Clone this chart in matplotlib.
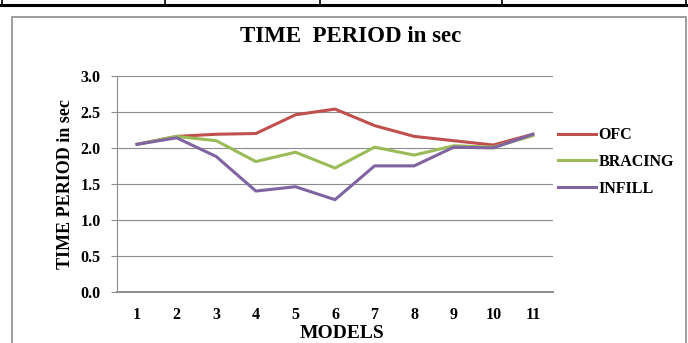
import matplotlib
matplotlib.use("Agg")
import matplotlib.pyplot as plt
from matplotlib.lines import Line2D
from matplotlib.patches import Rectangle

# ── Data ──────────────────────────────────────────────────────────────────────
models  = [1, 2, 3, 4, 5, 6, 7, 8, 9, 10, 11]
ofc     = [2.05, 2.16, 2.19, 2.20, 2.46, 2.54, 2.31, 2.16, 2.10, 2.04, 2.19]
bracing = [2.05, 2.16, 2.10, 1.81, 1.94, 1.72, 2.01, 1.90, 2.03, 2.01, 2.17]
infill  = [2.05, 2.14, 1.88, 1.40, 1.46, 1.28, 1.75, 1.75, 2.01, 2.00, 2.19]
y_ticks = [0.0, 0.5, 1.0, 1.5, 2.0, 2.5, 3.0]

COLORS = {"OFC": "#C0504D", "BRACING": "#9BBB59", "INFILL": "#8064A2"}

plt.rcParams["font.family"] = ["Liberation Serif", "DejaVu Serif"]
plt.rcParams["font.weight"] = "bold"

fig = plt.figure(figsize=(6.88, 3.43), dpi=100)

# ── Page decoration: table rule on top, chart frame ──────────────────────────
W, H = 688, 343
def px(x, y):
    return x / W, 1 - y / H

fig.add_artist(Line2D([0.0, 1.0], [1 - 5 / H] * 2, color="black", lw=2.2,
                      transform=fig.transFigure))
for xv in [2, 165, 320, 502, 686]:
    fig.add_artist(Line2D([xv / W] * 2, [1.0, 1 - 5 / H], color="black",
                          lw=1.2, transform=fig.transFigure))
fig.add_artist(Rectangle(px(12, 360), (686 - 12) / W, (360 - 17) / H,
                         fill=False, edgecolor="#8c8c8c", lw=1.2,
                         transform=fig.transFigure))

# ── Axes ──────────────────────────────────────────────────────────────────────
ax = fig.add_axes([117.3 / W, 1 - 291.7 / H, 435.4 / W, 215.7 / H])
ax.plot(models, ofc,     color=COLORS["OFC"],     lw=2.2, label="OFC")
ax.plot(models, bracing, color=COLORS["BRACING"], lw=2.2, label="BRACING")
ax.plot(models, infill,  color=COLORS["INFILL"],  lw=2.2, label="INFILL")

ax.set_xlim(0.5, 11.5)
ax.set_ylim(0, 3.0)
ax.set_xticks(models)
ax.set_yticks(y_ticks)
ax.set_yticklabels([f"{v:.1f}" for v in y_ticks])
ax.grid(axis="y", color="#8c8c8c", lw=0.8)
ax.set_axisbelow(True)
for side in ["top", "right"]:
    ax.spines[side].set_visible(False)
ax.spines["left"].set_color("#8c8c8c")
ax.spines["bottom"].set_color("#8c8c8c")
ax.spines["bottom"].set_linewidth(1.4)
ax.tick_params(axis="y", length=4, color="#8c8c8c", labelsize=11.5, pad=8)
ax.tick_params(axis="x", length=0, labelsize=11.5, pad=11)
for lbl in ax.get_xticklabels() + ax.get_yticklabels():
    lbl.set_fontweight("bold")

ax.set_xlabel("MODELS", fontsize=14, fontweight="bold", va="center")
ax.xaxis.set_label_coords(0.516, -0.192)
ax.set_ylabel("TIME PERIOD in sec", fontsize=13, fontweight="bold",
              va="center")
ax.yaxis.set_label_coords(-0.118, 0.5)
fig.text(351 / W, 1 - 37 / H, "TIME  PERIOD in sec", ha="center",
         va="center", fontsize=16.5, fontweight="bold")

fig.legend(*ax.get_legend_handles_labels(), loc="center left",
           bbox_to_anchor=(558 / W, 1 - 162 / H), frameon=False,
           prop={"weight": "bold", "size": 11.5},
           handlelength=2.4, handletextpad=0.15, labelspacing=0.68,
           borderpad=0, borderaxespad=0)

fig.savefig("out.png", dpi=100)
